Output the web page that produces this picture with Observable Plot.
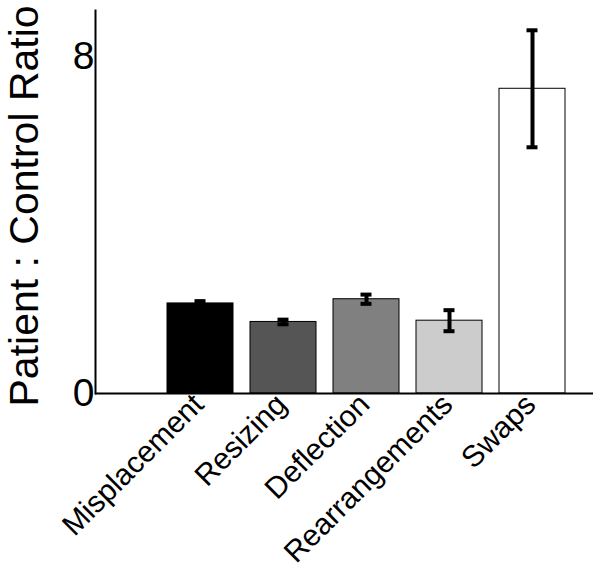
<!DOCTYPE html>
<html>
<head>
<meta charset="utf-8">
<script src="https://cdn.jsdelivr.net/npm/d3@7"></script>
<script src="https://cdn.jsdelivr.net/npm/@observablehq/plot@0.6"></script>
<style>
  html, body { margin: 0; padding: 0; background: #fff; }
  #chart svg { display: block; }
</style>
</head>
<body>
<div id="chart"></div>
<script>
const categories = ["Misplacement", "Resizing", "Deflection", "Rearrangements", "Swaps"];
const ratios = [2.14, 1.70, 2.24, 1.73, 7.24];
const errors = [0.055, 0.055, 0.11, 0.25, 1.39];
const fills = ["#000000", "#555555", "#808080", "#cccccc", "#ffffff"];
const yTicks = [0, 8];
const yLabel = "Patient : Control Ratio";

const data = categories.map((c, i) => ({
  category: c,
  ratio: ratios[i],
  lo: ratios[i] - errors[i],
  hi: ratios[i] + errors[i],
  fill: fills[i]
}));

const font = "'Liberation Sans', Arial, Helvetica, sans-serif";

const chart = Plot.plot({
  width: 600,
  height: 571,
  marginLeft: 95,
  marginRight: 7,
  marginTop: 10,
  marginBottom: 178,
  style: { fontFamily: font, background: "#fff", color: "#000" },
  x: { type: "band", domain: categories, paddingInner: 0.2, paddingOuter: 0.59, align: 0.72, label: null },
  y: { domain: [0, 9.1], label: null },
  marks: [
    Plot.barY(data, { x: "category", y: "ratio", fill: "fill", stroke: "#000", strokeWidth: 1 }),
    Plot.ruleX(data, { x: "category", y1: "lo", y2: "hi", stroke: "#000", strokeWidth: 4 }),
    Plot.tickY(data, { x: "category", y: "lo", stroke: "#000", strokeWidth: 4, insetLeft: 27.5, insetRight: 27.5 }),
    Plot.tickY(data, { x: "category", y: "hi", stroke: "#000", strokeWidth: 4, insetLeft: 27.5, insetRight: 27.5 }),
    Plot.ruleY([0], { stroke: "#000", strokeWidth: 2 }),
    Plot.frame({ anchor: "left", stroke: "#000", strokeWidth: 2 }),
    Plot.axisY({ ticks: yTicks, tickSize: 0, tickPadding: 1, fontSize: 39, label: null }),
    Plot.axisX({ tickSize: 0, tickRotate: -45, fontSize: 30, tickPadding: 6, dx: -2, dy: 0, label: null }),
    Plot.text([yLabel], { frameAnchor: "bottom-left", text: d => d, rotate: -90, textAnchor: "start", lineAnchor: "bottom", fontSize: 41, dx: -58, dy: 13, fill: "#000" })
  ]
});

document.getElementById("chart").appendChild(chart);
</script>
</body>
</html>
